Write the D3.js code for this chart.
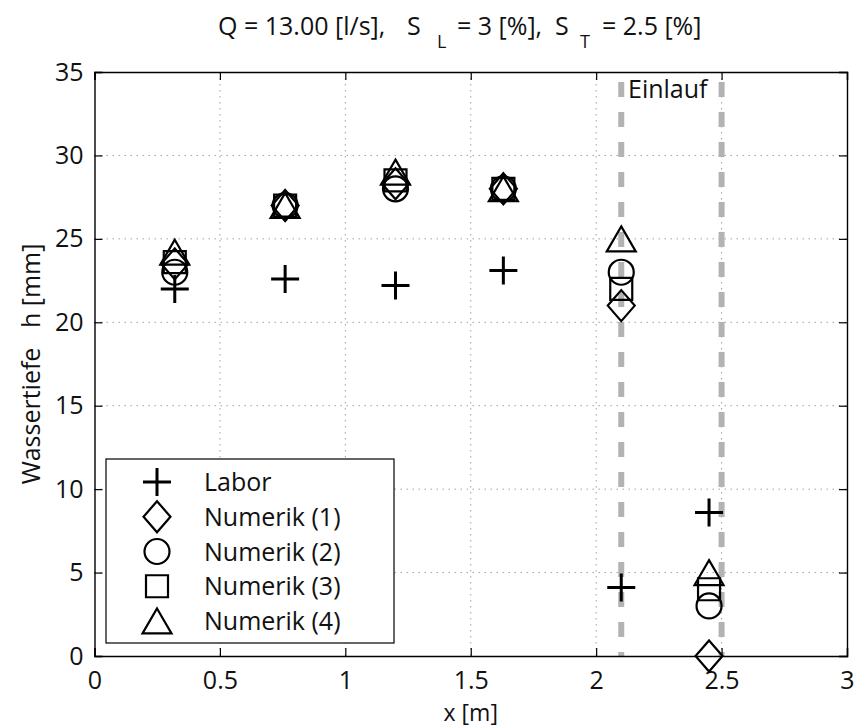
<!DOCTYPE html>
<html>
<head>
<meta charset="utf-8">
<script src="https://cdn.jsdelivr.net/npm/d3@7"></script>
<style>
  html, body { margin: 0; padding: 0; background: #fff; }
  svg { display: block; font-family: "Open Sans", "DejaVu Sans", sans-serif; }
</style>
</head>
<body>
<svg id="chart" width="855" height="727"></svg>
<script>
// ---- data ----
const xPositions = [0.32, 0.76, 1.2, 1.63, 2.1, 2.45];
const labor    = [22.0, 22.6, 22.2, 23.1, 4.1, 8.6];
const numerik1 = [23.5, 27.0, 28.3, 28.0, 21.0, 0.0];   // diamond
const numerik2 = [23.0, 27.0, 28.0, 28.0, 23.0, 3.0];   // circle
const numerik3 = [23.6, 27.0, 28.5, 28.0, 22.0, 4.0];   // square
const numerik4 = [24.2, 27.0, 29.0, 28.0, 25.0, 5.0];   // triangle
const einlaufX = [2.1, 2.5];
const xTicks = [0, 0.5, 1, 1.5, 2, 2.5, 3];
const yTicks = [0, 5, 10, 15, 20, 25, 30, 35];
const seriesNames = ["Labor", "Numerik (1)", "Numerik (2)", "Numerik (3)", "Numerik (4)"];

// ---- layout ----
const L = 94.5, R = 847, T = 72, B = 656;
const svg = d3.select("#chart");
const x = d3.scaleLinear().domain([0, 3]).range([L, R]);
const y = d3.scaleLinear().domain([0, 35]).range([B, T]);

// custom symbols
const symPlus = { draw(c, s) { const r = Math.sqrt(s) / 2; c.moveTo(-r, 0); c.lineTo(r, 0); c.moveTo(0, -r); c.lineTo(0, r); } };
const symDiamond = { draw(c, s) { const r = Math.sqrt(s) / 2; const w = r * 0.87; c.moveTo(0, -r); c.lineTo(w, 0); c.lineTo(0, r); c.lineTo(-w, 0); c.closePath(); } };
const symSquare = { draw(c, s) { const r = Math.sqrt(s) / 2; c.rect(-r, -r, 2 * r, 2 * r); } };
const symTriangle = { draw(c, s) { const r = Math.sqrt(s) / 2; const h = r * 0.86; c.moveTo(0, -h); c.lineTo(r, h); c.lineTo(-r, h); c.closePath(); } };
const symCircle = { draw(c, s) { const r = Math.sqrt(s) / 2; c.moveTo(r, 0); c.arc(0, 0, r, 0, 2 * Math.PI); } };

const series = [
  { name: seriesNames[0], values: labor,    type: symPlus,     size: 28 * 28, sw: 3 },
  { name: seriesNames[1], values: numerik1, type: symDiamond,  size: 31 * 31, sw: 2.2 },
  { name: seriesNames[2], values: numerik2, type: symCircle,   size: 25 * 25, sw: 2.2 },
  { name: seriesNames[3], values: numerik3, type: symSquare,   size: 22 * 22, sw: 2.2 },
  { name: seriesNames[4], values: numerik4, type: symTriangle, size: 29 * 29, sw: 2.2 }
];

// ---- grid ----
const grid = svg.append("g");
grid.selectAll("line.v").data(xTicks.filter(d => d > 0 && d < 3)).join("line")
  .attr("x1", d => x(d)).attr("x2", d => x(d)).attr("y1", T).attr("y2", B)
  .attr("stroke", "#a0a0a0").attr("stroke-width", 1).attr("stroke-dasharray", "1.5,4.5");
grid.selectAll("line.h").data(yTicks.filter(d => d > 0 && d < 35)).join("line")
  .attr("y1", d => y(d)).attr("y2", d => y(d)).attr("x1", L).attr("x2", R)
  .attr("stroke", "#a0a0a0").attr("stroke-width", 1).attr("stroke-dasharray", "1.5,4.5");

// ---- Einlauf dashed lines ----
svg.append("g").selectAll("line").data(einlaufX).join("line")
  .attr("x1", d => x(d)).attr("x2", d => x(d)).attr("y1", y(35)).attr("y2", y(0))
  .attr("stroke", "#b3b3b3").attr("stroke-width", 6)
  .attr("stroke-dasharray", "15,15").attr("stroke-dashoffset", 20);

svg.append("text").attr("x", 628).attr("y", 98)
  .attr("font-size", 25).attr("fill", "#111").text("Einlauf");

// ---- axes ----
const fmt = d => String(d);
const axB = svg.append("g").attr("transform", `translate(0,${B})`)
  .call(d3.axisBottom(x).tickValues(xTicks).tickFormat(fmt).tickSize(-8).tickPadding(15));
const axT = svg.append("g").attr("transform", `translate(0,${T})`)
  .call(d3.axisTop(x).tickValues(xTicks).tickFormat("").tickSize(-8));
const axL = svg.append("g").attr("transform", `translate(${L},0)`)
  .call(d3.axisLeft(y).tickValues(yTicks).tickFormat(fmt).tickSize(-8).tickPadding(11));
const axR = svg.append("g").attr("transform", `translate(${R},0)`)
  .call(d3.axisRight(y).tickValues(yTicks).tickFormat("").tickSize(-8));
[axB, axT, axL, axR].forEach(a => {
  a.select(".domain").attr("stroke", "#000").attr("stroke-width", 1.4);
  a.selectAll(".tick line").attr("stroke", "#000").attr("stroke-width", 1.2);
  a.selectAll(".tick text").attr("font-size", 25).attr("fill", "#111")
    .attr("font-family", '"Open Sans", sans-serif');
});

// ---- markers ----
const marks = svg.append("g");
series.forEach(s => {
  marks.append("g").selectAll("path").data(s.values).join("path")
    .attr("transform", (d, i) => `translate(${x(xPositions[i])},${y(d)})`)
    .attr("d", d3.symbol().type(s.type).size(s.size)())
    .attr("fill", "none").attr("stroke", "#000").attr("stroke-width", s.sw);
});

// ---- legend ----
const lg = svg.append("g");
lg.append("rect").attr("x", 106).attr("y", 459).attr("width", 288).attr("height", 184)
  .attr("fill", "#fff").attr("stroke", "#000").attr("stroke-width", 1.2);
const rowY = d3.scalePoint().domain(seriesNames).range([482, 621]);
series.forEach(s => {
  lg.append("path").attr("transform", `translate(157,${rowY(s.name)})`)
    .attr("d", d3.symbol().type(s.type).size(s.size)())
    .attr("fill", "none").attr("stroke", "#000").attr("stroke-width", s.sw);
  lg.append("text").attr("x", 204).attr("y", rowY(s.name)).attr("dy", "0.36em")
    .attr("font-size", 25).attr("fill", "#111").text(s.name);
});

// ---- title ----
const tt = svg.append("g").attr("font-size", 25).attr("fill", "#111");
tt.append("text").attr("x", 218).attr("y", 35).text("Q = 13.00 [l/s],");
tt.append("text").attr("x", 407).attr("y", 35).text("S");
tt.append("text").attr("x", 437).attr("y", 48).attr("font-size", 18).text("L");
tt.append("text").attr("x", 457).attr("y", 35).text("= 3 [%],");
tt.append("text").attr("x", 555).attr("y", 35).text("S");
tt.append("text").attr("x", 580).attr("y", 48).attr("font-size", 18).text("T");
tt.append("text").attr("x", 602).attr("y", 35).text("= 2.5 [%]");

// ---- axis labels ----
svg.append("text").attr("x", (L + R) / 2).attr("y", 721).attr("text-anchor", "middle")
  .attr("font-size", 23).attr("fill", "#111").text("x [m]");
svg.append("text").attr("transform", `translate(40,${(T + B) / 2}) rotate(-90)`)
  .attr("text-anchor", "middle").attr("font-size", 25).attr("fill", "#111")
  .style("white-space", "pre").text("Wassertiefe   h [mm]");
</script>
</body>
</html>
